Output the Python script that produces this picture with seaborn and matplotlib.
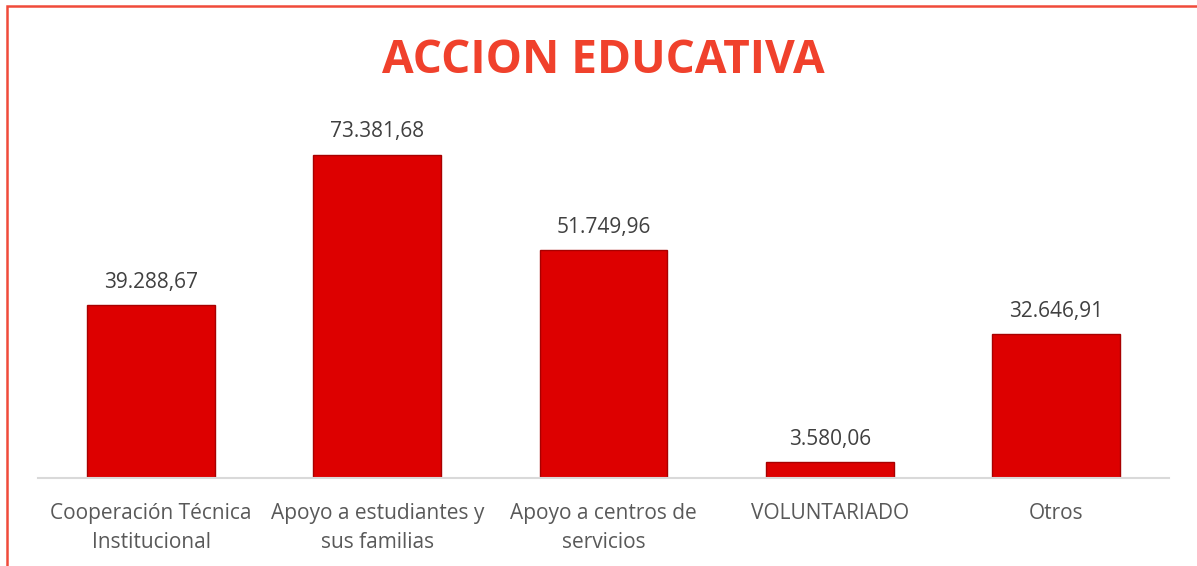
import matplotlib
matplotlib.use('Agg')
import matplotlib.pyplot as plt
import seaborn as sns
import pandas as pd
from matplotlib.patches import Rectangle

# data
categorias = ['Cooperación Técnica\nInstitucional', 'Apoyo a estudiantes y\nsus familias',
              'Apoyo a centros de\nservicios', 'VOLUNTARIADO', 'Otros']
valores = [39288.67, 73381.68, 51749.96, 3580.06, 32646.91]
etiquetas = ['39.288,67', '73.381,68', '51.749,96', '3.580,06', '32.646,91']

df = pd.DataFrame({'categoria': categorias, 'valor': valores})

sns.set_theme(style='white')
plt.rcParams['font.family'] = ['Open Sans', 'DejaVu Sans']

fig = plt.figure(figsize=(11.97, 5.66), dpi=100)
ax = fig.add_axes([0.0317, 0.1555, 0.945, 0.661])

sns.barplot(data=df, x='categoria', y='valor', color='#dd0000', saturation=1,
            width=0.565, edgecolor='#a80000', linewidth=1.0, ax=ax)

# value labels above the bars
for bar, txt in zip(ax.patches, etiquetas):
    ax.annotate(txt, (bar.get_x() + bar.get_width() / 2, bar.get_height()),
                xytext=(0, 9), textcoords='offset points', ha='center', va='bottom',
                fontsize=15, color='#404040')

ax.set_xlim(-0.5, 4.5)
ax.set_ylim(0, 85000)
ax.set_xlabel('')
ax.set_ylabel('')
ax.set_yticks([])
ax.tick_params(axis='x', length=0, pad=18, labelsize=15, labelcolor='#595959')
for lbl in ax.get_xticklabels():
    lbl.set_linespacing(1.5)
for s in ['top', 'right', 'left']:
    ax.spines[s].set_visible(False)
ax.spines['bottom'].set_color('#d9d9d9')
ax.spines['bottom'].set_linewidth(1.5)

fig.text(0.504, 0.893, 'ACCION EDUCATIVA', ha='center', va='center',
         fontsize=33, fontweight='bold', color='#f0412c')

# red frame around the chart area
fig.patches.append(Rectangle((7 / 1197, -0.05), 1.1, 1 - 6 / 566 + 0.05,
                             transform=fig.transFigure, fill=False,
                             edgecolor='#f04a3a', linewidth=1.8))

plt.savefig('out.png', dpi=100)
